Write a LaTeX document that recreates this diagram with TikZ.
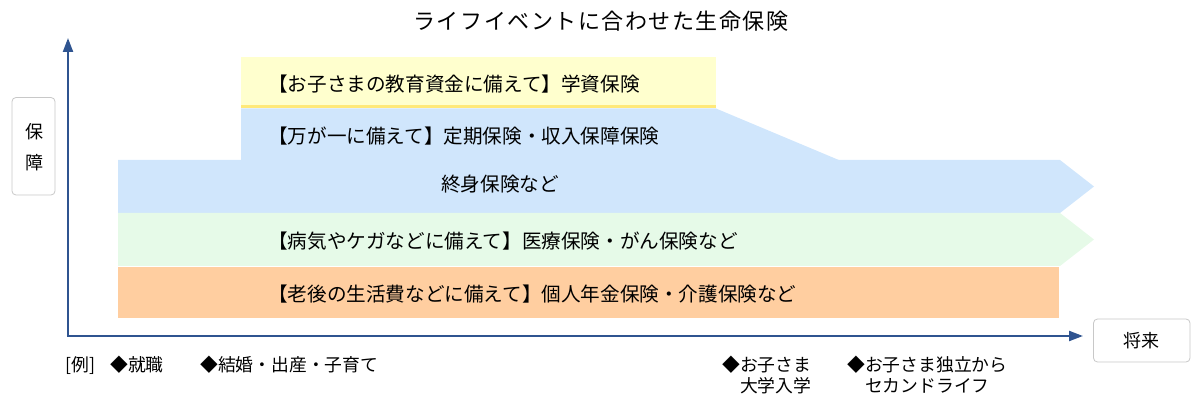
\documentclass[tikz,border=0pt]{standalone}
\usepackage{fontspec}
\setmainfont{Noto Sans CJK JP}
\newfontfamily\titlefont[LetterSpace=7]{Noto Sans CJK JP}
\usetikzlibrary{arrows.meta}
\definecolor{axisblue}{HTML}{2F5490}
\definecolor{yfill}{HTML}{FFFFCE}
\definecolor{yline}{HTML}{FFE97A}
\definecolor{bfill}{HTML}{D0E6FC}
\definecolor{gfill}{HTML}{E6FAE8}
\definecolor{ofill}{HTML}{FFCEA0}
\definecolor{boxgray}{HTML}{C8C8C8}
\tikzset{
  boxtext/.style={anchor=west, inner sep=0pt, font=\fontsize{19.6}{22}\selectfont},
  evtext/.style={anchor=north west, inner sep=0pt, align=left, font=\fontsize{17.8}{21}\selectfont},
  axislabel/.style={draw=boxgray, line width=0.8pt, rounded corners=4pt, fill=white},
  axisline/.style={draw=axisblue, line width=2.2pt, -{Triangle[length=14pt,width=10pt]}},
}
\begin{document}
\begin{tikzpicture}[x=1pt,y=-1pt]
\useasboundingbox (0,0) rectangle (1200,403);
% title
\node[inner sep=0pt, font=\titlefont\fontsize{22}{26}\selectfont] (title) at (601,21) {ライフイベントに合わせた生命保険};
% bands
\fill[yfill] (241,57) rectangle (716,106);
\draw[yline, line width=3pt] (241,107) -- (716,107);
\fill[bfill] (241,108.5) -- (716,108.5) -- (840,160.5) -- (241,160.5) -- cycle;
\fill[bfill] (118,160) -- (1060,160) -- (1094,186.5) -- (1060,213) -- (118,213) -- cycle;
\fill[gfill] (118,213) -- (1060,213) -- (1094,239.5) -- (1060,266) -- (118,266) -- cycle;
\fill[ofill] (118,267) rectangle (1059,318);
% band texts
\node[boxtext] (t1) at (268,84) {【お子さまの教育資金に備えて】学資保険};
\node[boxtext] (t2) at (268,136) {【万が一に備えて】定期保険・収入保障保険};
\node[boxtext] (t3) at (441,184) {終身保険など};
\node[boxtext] (t4) at (268,241) {【病気やケガなどに備えて】医療保険・がん保険など};
\node[boxtext] (t5) at (268,294) {【老後の生活費などに備えて】個人年金保険・介護保険など};
% axes
\coordinate (origin) at (68,336);
\coordinate (ytip) at (68,38);
\coordinate (xtip) at (1083,336);
\draw[axisline] (origin) -- (ytip);
\draw[axisline] ([xshift=-1.1pt]origin) -- (xtip);
% axis labels
\draw[axislabel] (12,97.5) rectangle (55,195);
\node[inner sep=0pt, font=\fontsize{18}{20}\selectfont] (hosho1) at (34,132) {保};
\node[inner sep=0pt, font=\fontsize{18}{20}\selectfont] (hosho2) at (34,163) {障};
\draw[axislabel] (1093.5,319) rectangle (1190,362);
\node[inner sep=0pt, font=\fontsize{18}{20}\selectfont] (shorai) at (1141,340.5) {将来};
% events
\node[evtext] (rei) at (65,356) {[例]};
\node[evtext] (e1) at (110,356) {◆就職};
\node[evtext] (e2) at (200,356) {◆結婚・出産・子育て};
\node[evtext] (e3) at (722,356) {◆お子さま\\\hspace*{1em}大学入学};
\node[evtext] (e4) at (847,356) {◆お子さま独立から\\\hspace*{1em}セカンドライフ};
\end{tikzpicture}
\end{document}
